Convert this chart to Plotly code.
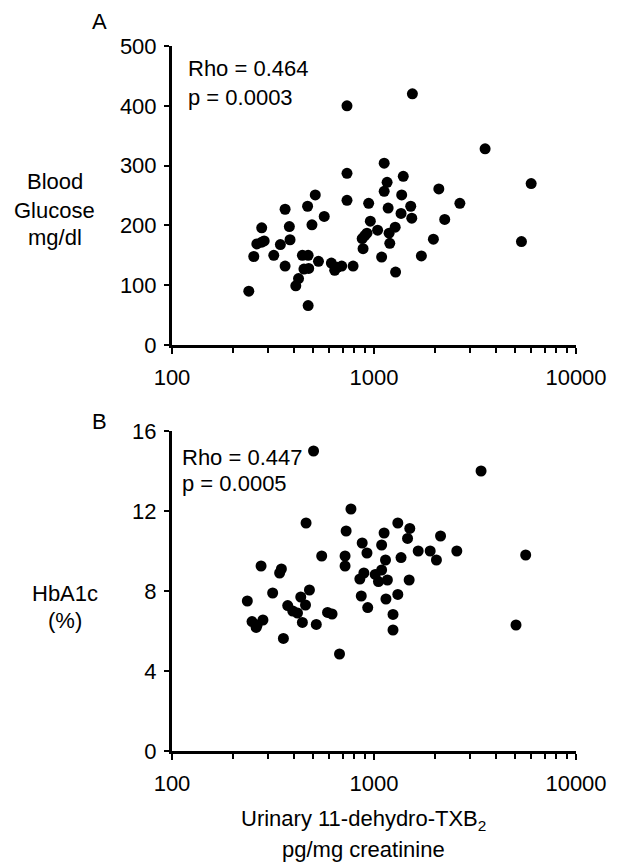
import plotly.graph_objects as go

# ---------------- data ----------------
txb_a = [240, 254, 263, 278, 286, 278, 319, 344, 363, 363, 381, 384, 410, 423, 442, 472,
         450, 475, 469, 472, 493, 512, 531, 567, 615, 639, 658, 692, 735, 735, 735, 788,
         883, 874, 923, 900, 941, 959,
         1549, 3548, 5998, 5370, 1123, 1396, 1161, 1123, 1371, 2094, 2661, 1175, 1520,
         1361, 1538, 2239, 1042, 1273, 1188, 1197, 1968, 1091, 1716, 1279]
glucose = [90, 148, 169, 172, 174, 196, 150, 168, 227, 132, 198, 176, 99, 111, 150, 150,
           127, 128, 232, 66, 201, 251, 140, 215, 137, 125, 130, 132, 400, 287, 242, 132,
           161, 178, 187, 183, 237, 207,
           420, 328, 270, 173, 304, 282, 272, 257, 251, 261, 237, 229, 232,
           220, 212, 210, 192, 197, 187, 170, 177, 147, 149, 122]

txb_b = [502, 769, 461, 728, 874, 923, 551, 719, 719, 276, 348, 341, 891, 851, 315, 479,
         434, 458, 236, 374, 396, 418, 442, 518, 589, 620, 865, 931, 249, 261, 282, 264,
         356, 675,
         3388, 5636, 5047, 1312, 1504, 1122, 1466, 2135, 1091, 1655, 1897, 2570, 2037,
         1140, 1361, 1014, 1091, 1052, 1165, 1493, 1312, 1146, 1242, 1242]
hba1c = [15.0, 12.1, 11.4, 11.0, 10.4, 9.9, 9.75, 9.75, 9.25, 9.25, 9.1, 8.9, 8.9, 8.6, 7.9, 8.05,
         7.7, 7.3, 7.5, 7.27, 7.0, 6.9, 6.43, 6.33, 6.93, 6.85, 7.75, 7.17, 6.47, 6.18, 6.55, 6.3,
         5.63, 4.85,
         14.0, 9.8, 6.3, 11.4, 11.13, 10.9, 10.63, 10.75, 10.3, 10.0, 10.0, 10.0, 9.55,
         9.55, 9.67, 8.83, 9.05, 8.47, 8.55, 8.55, 7.83, 7.6, 6.83, 6.05]

x_tickvals = [100, 1000, 10000]
x_ticktext = ["100", "1000", "10000"]
x_minor = [200, 300, 400, 500, 600, 700, 800, 900, 2000, 3000, 4000, 5000, 6000, 7000, 8000, 9000]
glu_ticks = [0, 100, 200, 300, 400, 500]
hba_ticks = [0, 4, 8, 12, 16]

# ---------------- layout helpers ----------------
W, H = 619, 865
L, R, T, B = 172, 33, 46, 114
pw, ph = W - L - R, H - T - B
FONT = "Liberation Sans, Arial, Helvetica, sans-serif"
FS = 22


def px(x):
    return (x - L) / pw


def py(y):
    return (H - B - y) / ph


marker = dict(color="black", size=11, line=dict(width=0))

fig = go.Figure()
fig.add_trace(go.Scatter(x=txb_a, y=glucose, mode="markers", marker=marker,
                         xaxis="x", yaxis="y", showlegend=False))
fig.add_trace(go.Scatter(x=txb_b, y=hba1c, mode="markers", marker=marker,
                         xaxis="x2", yaxis="y2", showlegend=False))

xcommon = dict(type="log", range=[2, 4], tickvals=x_tickvals, ticktext=x_ticktext,
               showline=True, linecolor="black", linewidth=3, ticks="outside",
               ticklen=6, tickwidth=2, tickcolor="black", showgrid=False, zeroline=False,
               minor=dict(tickvals=x_minor, ticks="outside", ticklen=5, tickwidth=2,
                          tickcolor="black", showgrid=False),
               ticklabeloverflow="allow",
               ticklabelstandoff=5, tickfont=dict(family=FONT, size=FS, color="black"))
ycommon = dict(showline=True, linecolor="black", linewidth=3, ticks="outside",
               ticklen=5, tickwidth=2, tickcolor="black", showgrid=False, zeroline=False,
               ticklabelstandoff=3, tickfont=dict(family=FONT, size=FS, color="black"))

top_lo, top_hi = py(345), py(46)
bot_lo, bot_hi = py(751), py(431)

fig.update_layout(
    width=W, height=H, margin=dict(l=L, r=R, t=T, b=B),
    paper_bgcolor="white", plot_bgcolor="white",
    font=dict(family=FONT, size=FS, color="black"),
    xaxis=dict(domain=[0, 1], anchor="y", **xcommon),
    yaxis=dict(domain=[top_lo, top_hi], anchor="x", range=[0, 500], tickvals=glu_ticks, **ycommon),
    xaxis2=dict(domain=[0, 1], anchor="y2", **xcommon),
    yaxis2=dict(domain=[bot_lo, bot_hi], anchor="x2", range=[0, 16], tickvals=hba_ticks, **ycommon),
)


def note(text, x, y, xanchor="center"):
    fig.add_annotation(text=text, x=px(x), y=py(y), xref="paper", yref="paper",
                       xanchor=xanchor, yanchor="middle", showarrow=False,
                       font=dict(family=FONT, size=FS, color="black"))


note("A", 98, 22)
note("B", 98, 421)
note("Rho = 0.464", 186, 68, "left")
note("p = 0.0003", 186, 97, "left")
note("Rho = 0.447", 180, 457, "left")
note("p = 0.0005", 180, 483, "left")
note("Blood", 52, 182)
note("Glucose", 52, 210)
note("mg/dl", 52, 238)
note("HbA1c", 62, 593)
note("(%)", 62, 620)
note("Urinary 11-dehydro-TXB<sub>2</sub>", 368, 820)
note("pg/mg creatinine", 368, 849)

fig.write_html(
    "out.html",
    config={"displayModeBar": False},
    post_script="document.body.style.margin='0px';document.body.style.overflow='hidden';",
)
